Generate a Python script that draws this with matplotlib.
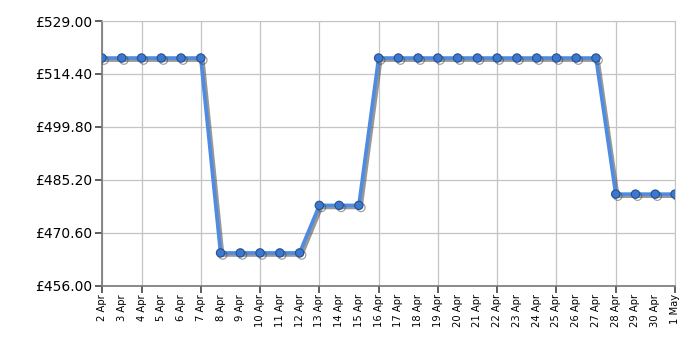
import matplotlib
matplotlib.use("Agg")
import matplotlib.pyplot as plt
import matplotlib.patheffects as pe

# ----------------------------------------------------------------------------------------------------------------------
dates = ['2 Apr', '3 Apr', '4 Apr', '5 Apr', '6 Apr', '7 Apr', '8 Apr', '9 Apr', '10 Apr', '11 Apr',
         '12 Apr', '13 Apr', '14 Apr', '15 Apr', '16 Apr', '17 Apr', '18 Apr', '19 Apr', '20 Apr', '21 Apr',
         '22 Apr', '23 Apr', '24 Apr', '25 Apr', '26 Apr', '27 Apr', '28 Apr', '29 Apr', '30 Apr', '1 May']
prices = [518.8, 518.8, 518.8, 518.8, 518.8, 518.8,
          465.1, 465.1, 465.1, 465.1, 465.1,
          478.2, 478.2, 478.2,
          518.8, 518.8, 518.8, 518.8, 518.8, 518.8, 518.8, 518.8, 518.8, 518.8, 518.8, 518.8,
          481.3, 481.3, 481.3, 481.3]
y_ticks = [456.00, 470.60, 485.20, 499.80, 514.40, 529.00]
# ----------------------------------------------------------------------------------------------------------------------
fig = plt.figure(figsize=(7, 3.5), dpi=100)
ax = fig.add_axes([0.1457, 0.183, 0.8186, 0.757])

x = list(range(len(dates)))
ax.plot(x, prices, color='#4f8be0', linewidth=2.6, marker='o', markersize=6,
        markerfacecolor='#3d78d0', markeredgecolor='#24508f', markeredgewidth=0.8, zorder=3,
        path_effects=[pe.SimpleLineShadow(offset=(1.5, -1.5), shadow_color='#444444', alpha=0.55), pe.Normal()])

ax.set_xlim(0, len(dates) - 1)
ax.set_ylim(y_ticks[0], y_ticks[-1])
ax.set_yticks(y_ticks)
ax.set_yticklabels(['£%.2f' % v for v in y_ticks], fontsize=10)

# labels on every day, grid + tick marks every third day
ax.xaxis.remove_overlapping_locs = False
ax.set_xticks(x)
ax.set_xticklabels(dates, rotation=90, fontsize=7.2)
ax.set_xticks([0] + list(range(2, len(dates), 3)), minor=True)
ax.tick_params(axis='x', which='major', length=0, pad=6)
ax.tick_params(axis='x', which='minor', length=5, width=1.1, color='#333333')
ax.tick_params(axis='y', length=5, width=1.1, color='#333333', pad=2)

ax.grid(True, axis='y', which='major', color='#c4c4c4', linewidth=0.9)
ax.grid(True, axis='x', which='minor', color='#c4c4c4', linewidth=0.9)
ax.set_axisbelow(True)
for side in ['top', 'right']:
    ax.spines[side].set_color('#c4c4c4')
for side in ['left', 'bottom']:
    ax.spines[side].set_color('#777777')
    ax.spines[side].set_linewidth(1.2)

fig.savefig('out.png', dpi=100)
